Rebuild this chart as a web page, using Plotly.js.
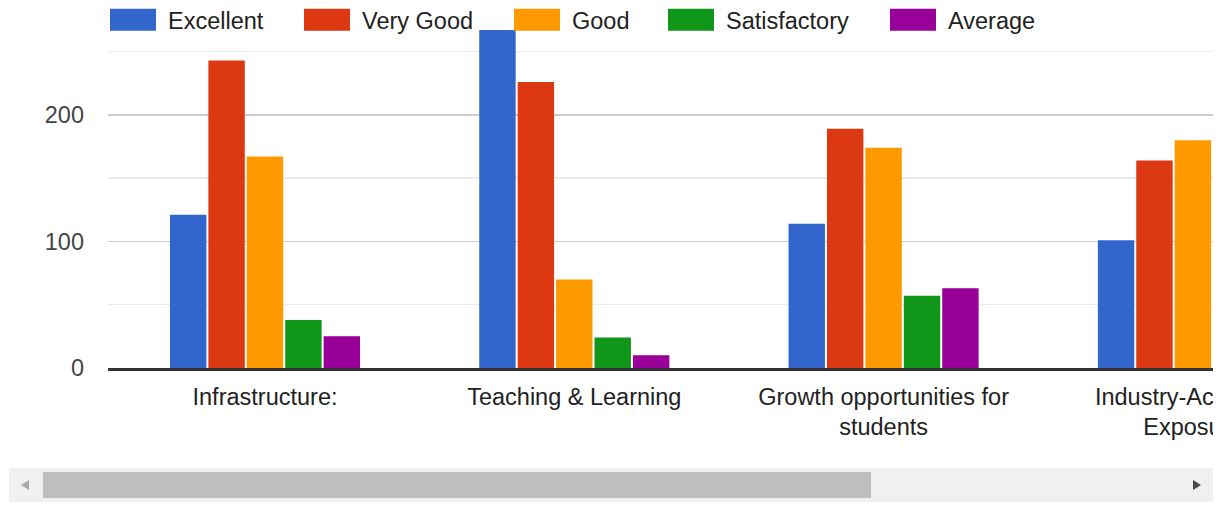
<!DOCTYPE html>
<html>
<head>
<meta charset="utf-8">
<script src="https://cdn.plot.ly/plotly-3.0.1.min.js"></script>
<style>
  html, body { margin: 0; padding: 0; background: #ffffff; }
  #wrap { position: absolute; left: 0; top: 0; width: 1213px; height: 462px; overflow: hidden; }
  #chart { width: 1500px; height: 462px; }
  #track { position: absolute; left: 9px; top: 468px; width: 1204px; height: 34px; background: #f0f0f0; }
  #thumb { position: absolute; left: 34px; top: 4px; width: 828px; height: 26px; background: #bebebe; }
  #arrowL { position: absolute; left: 12px; top: 12px; width: 0; height: 0;
            border-top: 5px solid transparent; border-bottom: 5px solid transparent; border-right: 8px solid #a8a8a8; }
  #arrowR { position: absolute; left: 1184px; top: 12px; width: 0; height: 0;
            border-top: 5.5px solid transparent; border-bottom: 5.5px solid transparent; border-left: 8px solid #4a4a4a; }
</style>
</head>
<body>
<div id="wrap"><div id="chart"></div></div>
<div id="track"><div id="arrowL"></div><div id="thumb"></div><div id="arrowR"></div></div>
<script>
// ---- data ----
var categories = ["Infrastructure:", "Teaching & Learning", "Growth opportunities for<br>students", "Industry-Academia<br>Exposure"];
var seriesNames = ["Excellent", "Very Good", "Good", "Satisfactory", "Average"];
var excellent    = [121, 267, 114, 101];
var veryGood     = [243, 226, 189, 164];
var good         = [167, 70, 174, 180];
var satisfactory = [38, 24, 57, null];
var average      = [25, 10, 63, null];

// ---- style ----
var colors = ["#3366cc", "#dc3912", "#ff9900", "#109618", "#990099"];
var legendWidths = [119, 135, 79, 147, 110];
var seriesValues = [excellent, veryGood, good, satisfactory, average];
var FONT = "Arial, 'Liberation Sans', sans-serif";

var data = seriesNames.map(function (name, i) {
  return {
    type: "bar",
    name: name,
    x: categories,
    y: seriesValues[i],
    marker: { color: colors[i], line: { width: 0 } },
    legendwidth: legendWidths[i],
    hoverinfo: "none"
  };
});

var figW = 1500, figH = 462, marginL = 108, marginT = 10, marginB = 94;
var catStep = 309.3, firstCenter = 265;
var r0 = -(firstCenter - marginL) / catStep;
var r1 = r0 + (figW - marginL) / catStep;
var plotH = figH - marginT - marginB;

var layout = {
  width: figW,
  height: figH,
  margin: { l: marginL, r: 0, t: marginT, b: marginB, autoexpand: false },
  paper_bgcolor: "#ffffff",
  plot_bgcolor: "#ffffff",
  font: { family: FONT, size: 23.5, color: "#222222" },
  barmode: "group",
  bargap: 0.379,
  bargroupgap: 0.052,
  showlegend: true,
  legend: {
    orientation: "h",
    xref: "container", yref: "paper",
    x: 98 / figW, xanchor: "left",
    y: 1 + (marginT + 2) / plotH, yanchor: "top",
    bgcolor: "rgba(0,0,0,0)",
    borderwidth: 0,
    itemwidth: 60,
    font: { family: FONT, size: 23.5, color: "#222222" },
    itemclick: false, itemdoubleclick: false
  },
  xaxis: {
    type: "category",
    range: [r0, r1],
    showgrid: false,
    zeroline: false,
    showline: true,
    linecolor: "#333333",
    linewidth: 2.5,
    ticks: "",
    ticklabelstandoff: 6,
    tickfont: { family: FONT, size: 23.5, color: "#222222" },
    fixedrange: true
  },
  yaxis: {
    range: [0, 282.8],
    dtick: 100,
    tick0: 0,
    showgrid: true,
    gridcolor: "#cccccc",
    gridwidth: 1.5,
    zeroline: false,
    showline: false,
    ticks: "",
    ticklabelstandoff: 23,
    tickfont: { family: FONT, size: 23.5, color: "#444444" },
    minor: { dtick: 50, tick0: 0, showgrid: true, gridcolor: "#ebebeb", gridwidth: 1.5, ticks: "" },
    fixedrange: true
  }
};

function fixLegend(gd) {
  var items = gd.querySelectorAll(".legend g.traces");
  items.forEach(function (tr) {
    var txt = tr.querySelector("text.legendtext");
    var paths = tr.querySelectorAll("g.legendpoints path");
    if (!txt || !paths.length) return;
    var tb = txt.getBoundingClientRect();
    paths.forEach(function (p) {
      var pb = p.getBoundingClientRect();
      if (pb.width === 0) return;
      var cx = pb.left + pb.width / 2;
      var L = (tb.left - 12 - 46) - cx;
      p.setAttribute("d", "M" + L + ",-11h46v22h-46Z");
    });
  });
}

var gd = document.getElementById("chart");
Plotly.newPlot(gd, data, layout, { staticPlot: true, displayModeBar: false }).then(function () {
  fixLegend(gd);
});
</script>
</body>
</html>
